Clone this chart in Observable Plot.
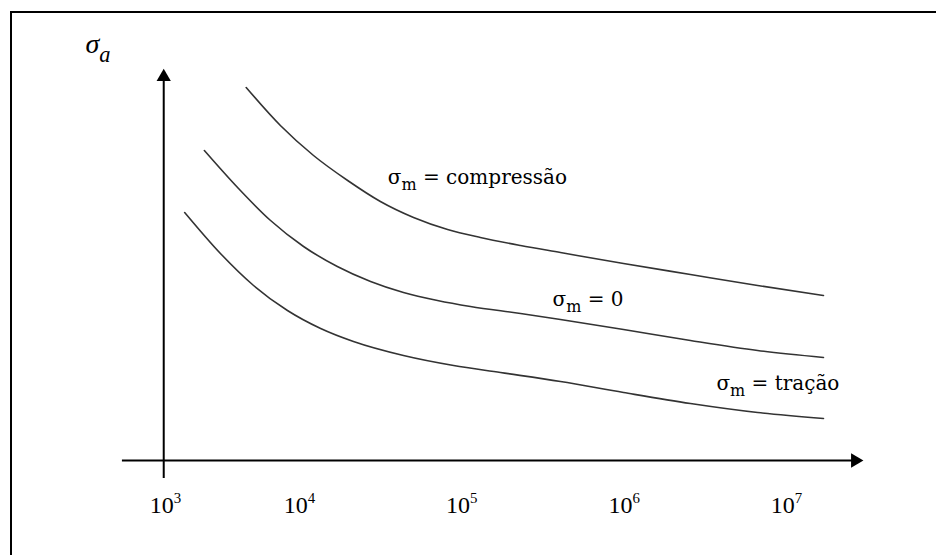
<!DOCTYPE html>
<html>
<head>
<meta charset="utf-8">
<script src="https://cdn.jsdelivr.net/npm/d3@7"></script>
<script src="https://cdn.jsdelivr.net/npm/@observablehq/plot@0.6"></script>
<style>
  html, body { margin: 0; padding: 0; background: #fff; overflow: hidden; width: 936px; height: 555px; }
  #frame { position: absolute; left: 10px; top: 11px; width: 1000px; height: 1000px;
           border-top: 2px solid #000; border-left: 2px solid #000; }
  #chart { position: absolute; left: 0; top: 0; }
</style>
</head>
<body>
<div id="frame"></div>
<div id="chart"></div>
<script>
// ---- Data ----
// Number of cycles N (log axis) and alternating stress σa (arbitrary units)
const seriesNames = ["compressão", "0", "tração"];

const cyclesCompressao = [4000, 7200, 12200, 19800, 31500, 50400, 81700, 130000, 230000, 405000, 991000, 2.56e6, 6.64e6, 1.69e7];
const stressCompressao = [93.25, 83.75, 76.25, 70, 64.75, 60.75, 57.75, 55.75, 53.75, 52, 49.25, 46.5, 43.75, 41.25];

const cyclesZero = [1950, 3450, 6080, 10590, 17100, 27400, 43700, 70800, 113000, 230000, 405000, 991000, 2.56e6, 6.64e6, 1.69e7];
const stressZero = [77.5, 68.25, 60, 53.5, 48.5, 44.75, 42, 40, 38.5, 36.75, 35.25, 32.75, 30, 27.5, 25.75];

const cyclesTracao = [1390, 2570, 4540, 8130, 13500, 21500, 43700, 89000, 173000, 405000, 991000, 2.56e6, 6.64e6, 1.69e7];
const stressTracao = [62, 51.75, 43.75, 37.5, 33, 29.75, 26.25, 23.75, 22, 19.75, 17, 14.25, 12, 10.5];

// Curve labels
const labelTexts = ["σ_m = compressão", "σ_m = 0", "σ_m = tração"];
const labelCycles = [35000, 362000, 3.7e6];
const labelStress = [70.75, 40.25, 19.25];

// Tick labels
const tickCycles = [1e3, 1e4, 1e5, 1e6, 1e7];
const tickLabels = ["10^3", "10^4", "10^5", "10^6", "10^7"];
const tickStress = -11.1;

// Axis title
const yTitle = "σ_a";
const yTitleCycles = 253;
const yTitleStress = 104;

// Axes extents
const axisOriginCycles = 970;
const xAxisFrom = 477, xAxisTo = 2.65e7;
const yAxisFrom = -4.5, yAxisTo = 95.9;

// ---- Build table ----
const curveCycles = [cyclesCompressao, cyclesZero, cyclesTracao];
const curveStress = [stressCompressao, stressZero, stressTracao];
const rows = seriesNames.flatMap((name, k) =>
  curveCycles[k].map((n, i) => ({serie: name, N: n, S: curveStress[k][i]})));
const labels = labelTexts.map((t, i) => ({text: t, N: labelCycles[i], S: labelStress[i]}));
const ticks = tickCycles.map((n, i) => ({text: tickLabels[i], N: n, S: tickStress}));

const chart = Plot.plot({
  width: 936,
  height: 555,
  margin: 0,
  style: {background: "transparent", overflow: "visible"},
  x: {type: "log", domain: [1e3, 1e4, 1e7], range: [165, 299, 786], axis: null},
  y: {type: "linear", domain: [0, 100], range: [460, 60], axis: null},
  marks: [
    Plot.ruleY([0], {x1: xAxisFrom, x2: xAxisTo, stroke: "#000", strokeWidth: 2}),
    Plot.ruleX([axisOriginCycles], {y1: yAxisFrom, y2: yAxisTo, stroke: "#000", strokeWidth: 2}),
    Plot.dot([{N: axisOriginCycles, S: yAxisTo}], {x: "N", y: "S", symbol: "triangle", r: 5.3, fill: "#000", stroke: null}),
    Plot.dot([{N: xAxisTo, S: 0}], {x: "N", y: "S", symbol: "triangle", r: 5.3, rotate: 90, fill: "#000", stroke: null}),
    Plot.line(rows, {x: "N", y: "S", z: "serie", curve: "monotone-x", stroke: "#333", strokeWidth: 1.6}),
    Plot.text(labels, {x: "N", y: "S", text: "text", textAnchor: "start", fontFamily: "DejaVu Serif", fontSize: 20, fill: "#000"}),
    Plot.text(ticks, {x: "N", y: "S", text: "text", textAnchor: "middle", fontFamily: "Liberation Serif", fontSize: 24, fill: "#000"}),
    Plot.text([{text: yTitle, N: yTitleCycles, S: yTitleStress}], {x: "N", y: "S", text: "text", textAnchor: "start", fontFamily: "Liberation Serif", fontStyle: "italic", fontSize: 28, fill: "#000"})
  ]
});
document.getElementById("chart").appendChild(chart);

// Turn "_x" into subscripts and "^x" into superscripts
const NS = "http://www.w3.org/2000/svg";
chart.querySelectorAll("text").forEach(t => {
  const s = t.textContent;
  if (!/[_^]/.test(s)) return;
  const fs = parseFloat(getComputedStyle(t).fontSize) || 20;
  const parts = s.split(/([_^][^\s_^])/).filter(p => p.length);
  t.textContent = "";
  let shift = 0;
  for (const p of parts) {
    const ts = document.createElementNS(NS, "tspan");
    let target = 0;
    if (p[0] === "_" && p.length === 2) {
      ts.textContent = p[1];
      ts.setAttribute("font-size", (fs * 0.8).toFixed(1));
      target = fs * 0.3;
    } else if (p[0] === "^" && p.length === 2) {
      ts.textContent = p[1];
      ts.setAttribute("font-size", (fs * 0.62).toFixed(1));
      target = -fs * 0.38;
    } else {
      ts.textContent = p;
    }
    const dy = target - shift;
    if (dy !== 0) ts.setAttribute("dy", dy.toFixed(1));
    shift = target;
    t.appendChild(ts);
  }
});
</script>
</body>
</html>
